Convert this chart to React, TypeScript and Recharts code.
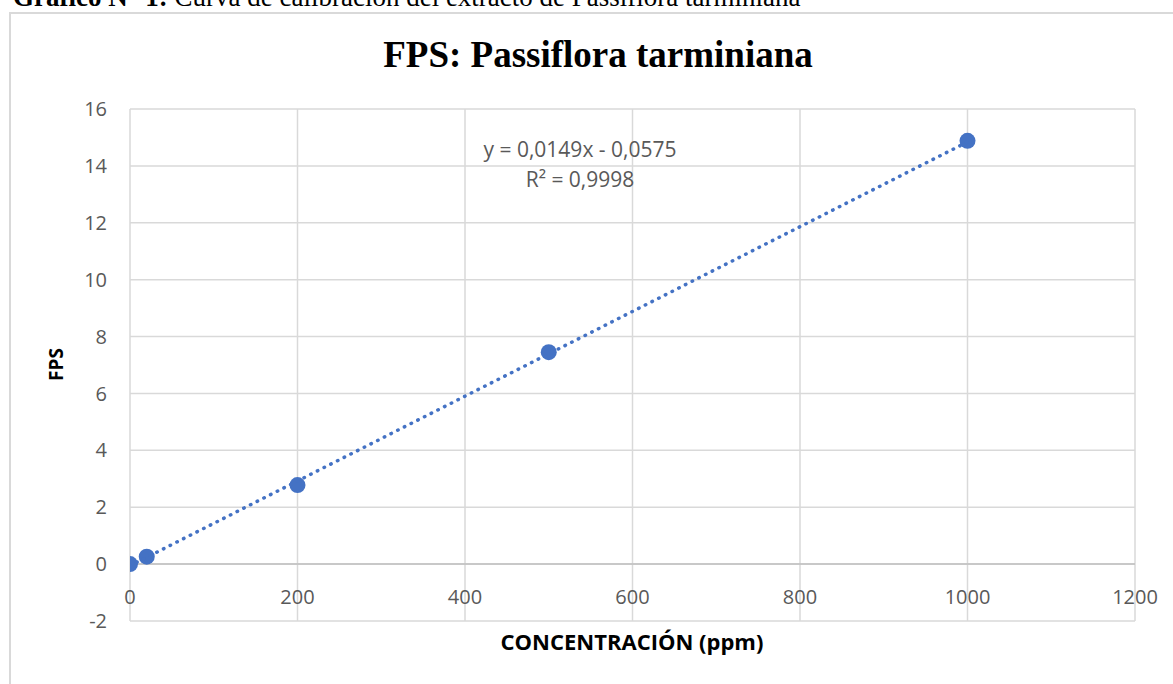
import React from "react";
import {
  ScatterChart,
  Scatter,
  XAxis,
  YAxis,
  CartesianGrid,
  ReferenceLine,
} from "recharts";

const concentration = [0, 20, 200, 500, 1000];
const fps = [0, 0.26, 2.78, 7.45, 14.88];

// linear trendline shown in the chart: y = 0,0149x - 0,0575
const trendX = [0, 1000];
const trendY = [-0.0575, 14.8425];

const xTicks = [0, 200, 400, 600, 800, 1000, 1200];
const yTicks = [-2, 0, 2, 4, 6, 8, 10, 12, 14, 16];

const points = concentration.map((x, i) => ({ x, y: fps[i] }));
const trend = trendX.map((x, i) => ({ x, y: trendY[i] }));

const BLUE = "#4472C4";
const GRID = "#d9d9d9";
const TICK = "#595959";
const SANS = "'Open Sans', 'Noto Sans', sans-serif";
const SERIF = "'Liberation Serif', 'Times New Roman', serif";

const XTick = (props: any) => {
  const { x, y, payload } = props;
  return (
    <text x={x} y={y - 17} textAnchor="middle" fill={TICK} fontSize={20} fontFamily={SANS}>
      {payload.value}
    </text>
  );
};

const Dot = (props: any) => <circle cx={props.cx} cy={props.cy} r={8} fill={BLUE} />;

export default function App() {
  return (
    <div
      style={{
        position: "fixed",
        left: 0,
        top: 0,
        width: 1173,
        height: 684,
        overflow: "hidden",
        background: "#fff",
      }}
    >
      <svg
        width={1173}
        height={684}
        style={{ position: "absolute", left: 0, top: 0 }}
      >
        <rect x={10} y={13} width={1200} height={720} fill="none" stroke={GRID} strokeWidth={2} />
      </svg>
      <div style={{ position: "absolute", left: 0, top: 0 }}>
        <ScatterChart
          width={1173}
          height={684}
          margin={{ top: 109, right: 38, bottom: 33, left: 70 }}
        >
          <CartesianGrid stroke={GRID} strokeWidth={1.5} />
          <XAxis
            type="number"
            dataKey="x"
            domain={[0, 1200]}
            ticks={xTicks}
            height={30}
            axisLine={false}
            tickLine={false}
            tickSize={0}
            tickMargin={0}
            tick={<XTick />}
            allowDataOverflow
          />
          <YAxis
            type="number"
            dataKey="y"
            domain={[-2, 16]}
            ticks={yTicks}
            width={60}
            axisLine={false}
            tickLine={false}
            tickSize={0}
            tickMargin={23}
            tick={{ fill: TICK, fontSize: 20, fontFamily: SANS }}
            allowDataOverflow
          />
          <ReferenceLine y={0} stroke="#bfbfbf" strokeWidth={1.5} />
          <Scatter
            data={points}
            fill={BLUE}
            shape={<Dot />}
            isAnimationActive={false}
          />
          <Scatter
            data={trend}
            fill="none"
            line={{
              stroke: BLUE,
              strokeWidth: 3.5,
              strokeDasharray: "0.5 7",
              strokeLinecap: "round",
            }}
            shape={() => <g />}
            isAnimationActive={false}
          />
        </ScatterChart>
      </div>
      <svg
        width={1173}
        height={684}
        style={{ position: "absolute", left: 0, top: 0, pointerEvents: "none" }}
      >
        <text x={13} y={5.5} fontFamily={SERIF} fontSize={27} fill="#000">
          <tspan fontWeight="bold">Gráfico N° 1:</tspan> Curva de calibración del extracto de Passiflora tarminiana
        </text>
        <text x={598} y={67} textAnchor="middle" fontFamily={SERIF} fontWeight="bold" fontSize={37} fill="#000">
          FPS: Passiflora tarminiana
        </text>
        <text x={580} y={157} textAnchor="middle" fontFamily={SANS} fontSize={21} fill={TICK}>
          y = 0,0149x - 0,0575
        </text>
        <text x={580} y={187} textAnchor="middle" fontFamily={SANS} fontSize={21} fill={TICK}>
          R² = 0,9998
        </text>
        <text x={632} y={650} textAnchor="middle" fontFamily={SANS} fontWeight="bold" fontSize={22} fill="#000">
          CONCENTRACIÓN (ppm)
        </text>
        <text
          x={63}
          y={364.5}
          transform="rotate(-90 63 364.5)"
          textAnchor="middle"
          fontFamily={SANS}
          fontWeight="bold"
          fontSize={19}
          fill="#000"
        >
          FPS
        </text>
      </svg>
    </div>
  );
}
